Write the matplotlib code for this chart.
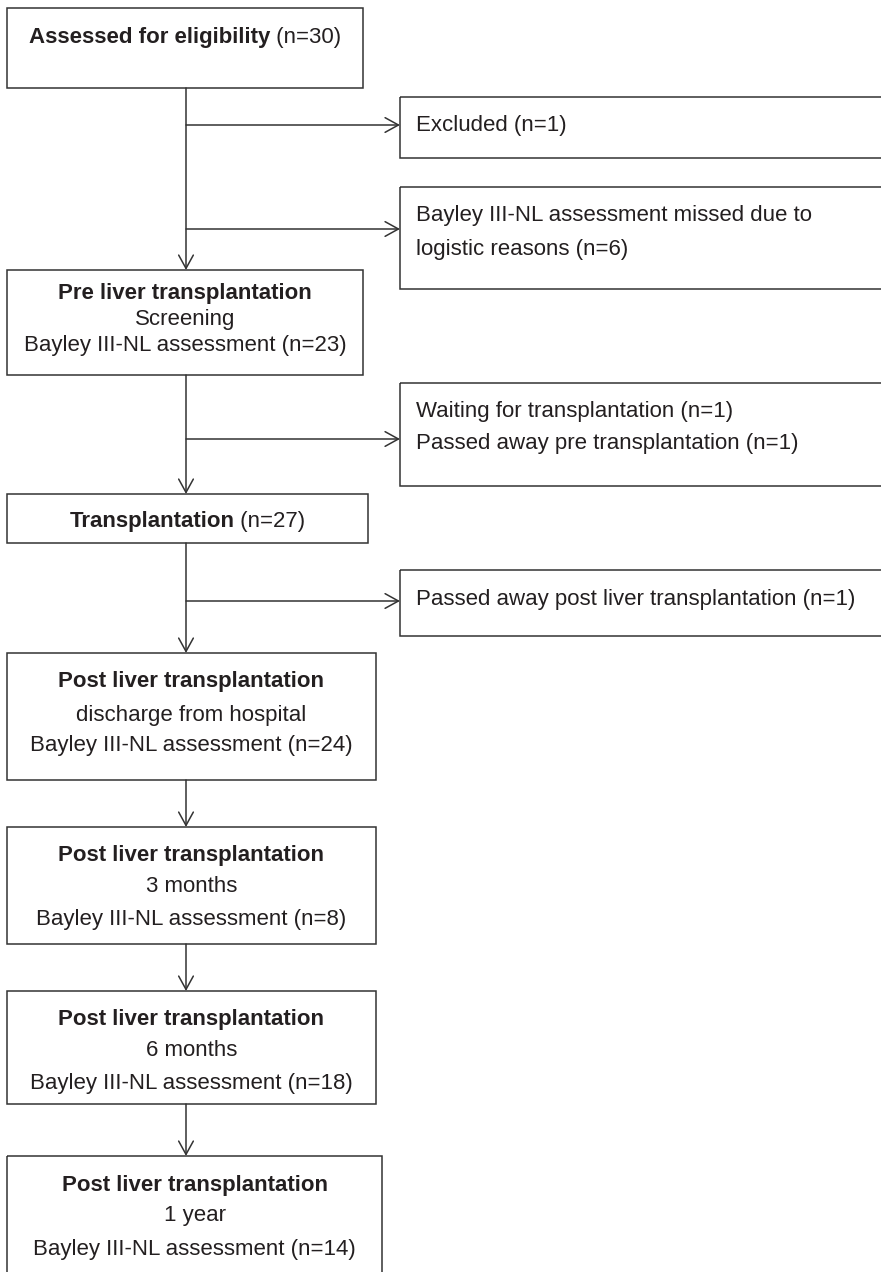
import matplotlib
matplotlib.use("Agg")
import matplotlib.pyplot as plt
from matplotlib.patches import Rectangle

plt.rcParams['font.family'] = ['Liberation Sans', 'DejaVu Sans']

# Flow contents: (bold part, regular part) per line
main_lines = [
    [("Assessed for eligibility", " (n=30)")],
    [("Pre liver transplantation", ""), ("", "Screening"), ("", "Bayley III-NL assessment (n=23)")],
    [("Transplantation", " (n=27)")],
    [("Post liver transplantation", ""), ("", "discharge from hospital"), ("", "Bayley III-NL assessment (n=24)")],
    [("Post liver transplantation", ""), ("", "3 months"), ("", "Bayley III-NL assessment (n=8)")],
    [("Post liver transplantation", ""), ("", "6 months"), ("", "Bayley III-NL assessment (n=18)")],
    [("Post liver transplantation", ""), ("", "1 year"), ("", "Bayley III-NL assessment (n=14)")],
]
side_lines = [
    ["Excluded (n=1)"],
    ["Bayley III-NL assessment missed due to", "logistic reasons (n=6)"],
    ["Waiting for transplantation (n=1)", "Passed away pre transplantation (n=1)"],
    ["Passed away post liver transplantation (n=1)"],
]

# layout in pixels (y downwards)
main_box = [(7, 8, 363, 88), (7, 270, 363, 375), (7, 494, 368, 543),
            (7, 653, 376, 780), (7, 827, 376, 944), (7, 991, 376, 1104),
            (7, 1156, 382, 1290)]
main_text_y = [[35], [291, 317, 343], [520], [679, 713, 744],
               [853, 885, 918], [1017, 1049, 1082], [1183, 1214, 1247]]
side_box = [(400, 97, 900, 158), (400, 187, 900, 289),
            (400, 383, 900, 486), (400, 570, 900, 636)]
side_text_y = [[123], [213, 247], [410, 442], [597]]
branch_y = [125, 229, 439, 601]
spine_x = 186
text_dy = 2  # small nudge: bbox centre sits a bit above the visual centre

W, H = 881, 1272
line_col = '#333333'
text_col = '#231f20'
fs = 16

fig = plt.figure(figsize=(W / 100, H / 100), dpi=100)
ax = fig.add_axes([0, 0, 1, 1])
ax.set_xlim(0, W)
ax.set_ylim(H, 0)
ax.axis('off')

for (x0, y0, x1, y1) in main_box + side_box:
    ax.add_patch(Rectangle((x0, y0), x1 - x0, y1 - y0, fill=False,
                           ec=line_col, lw=1.1, clip_on=True))

# vertical flow arrows between main boxes
arrow_kw = dict(arrowstyle='->,head_length=0.4,head_width=0.22',
                mutation_scale=24, color=line_col, lw=1.1,
                shrinkA=0, shrinkB=0)
for i in range(len(main_box) - 1):
    ax.annotate('', xy=(spine_x, main_box[i + 1][1]),
                xytext=(spine_x, main_box[i][3]), arrowprops=arrow_kw)
for by in branch_y:
    ax.annotate('', xy=(side_box[0][0], by), xytext=(spine_x, by),
                arrowprops=arrow_kw)

renderer = fig.canvas.get_renderer()
inv = ax.transData.inverted()


def width_of(t):
    bb = t.get_window_extent(renderer=renderer)
    p0 = inv.transform((bb.x0, bb.y0))
    p1 = inv.transform((bb.x1, bb.y0))
    return p1[0] - p0[0]


for box, lines, ys in zip(main_box, main_lines, main_text_y):
    cx = (box[0] + box[2]) / 2
    for (b, r), y in zip(lines, ys):
        tb = ax.text(0, y + text_dy, b, fontsize=fs, fontweight='bold',
                     color=text_col, ha='left', va='center')
        tr = ax.text(0, y + text_dy, r, fontsize=fs, color=text_col,
                     ha='left', va='center')
        wb = width_of(tb) if b else 0
        wr = width_of(tr) if r else 0
        start = cx - (wb + wr) / 2
        tb.set_x(start)
        tr.set_x(start + wb)

for box, lines, ys in zip(side_box, side_lines, side_text_y):
    for s, y in zip(lines, ys):
        ax.text(box[0] + 16, y + text_dy, s, fontsize=fs, color=text_col,
                ha='left', va='center')

fig.savefig('out.png', dpi=100)
